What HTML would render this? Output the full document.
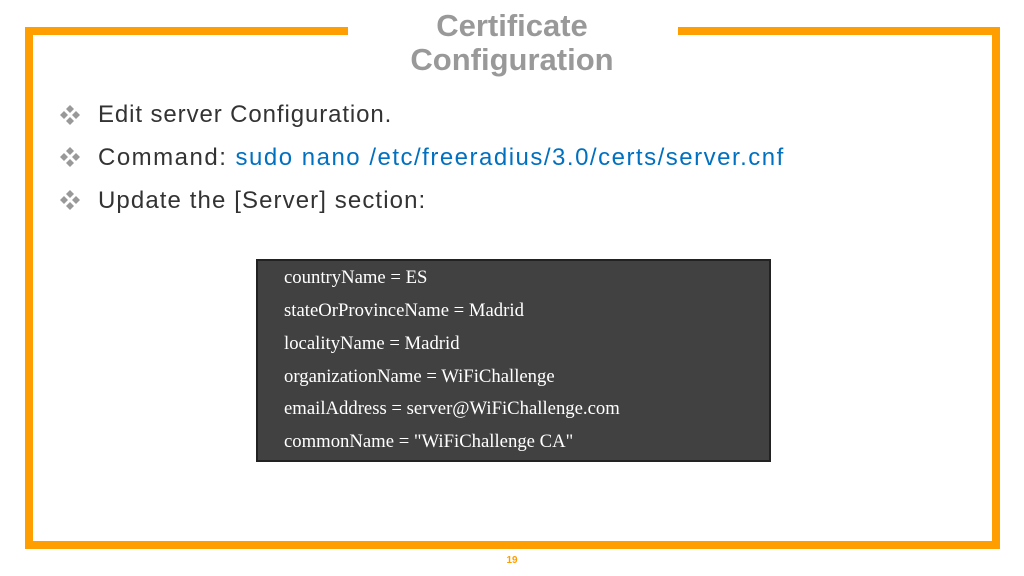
<!DOCTYPE html>
<html><head><style>
body{margin:0;width:1024px;height:576px;background:#fff;position:relative;overflow:hidden;font-family:"Liberation Sans",sans-serif}
.o{position:absolute;background:#ff9e00}
.t{position:absolute;left:340px;width:344px;text-align:center;color:#999;font-weight:bold;font-size:31px;line-height:34px;top:9px}
.b{position:absolute;left:98px;font-size:24px;color:#333;white-space:nowrap}
.d{position:absolute;left:58px;width:24px;height:24px}
.box{position:absolute;left:256px;top:259px;width:511px;height:199px;background:#414141;border:2px solid #222}
.box div{position:absolute;left:26px;color:#fff;font-family:"Liberation Serif",serif;font-size:18.7px;white-space:nowrap}
</style></head><body>
<div class="o" style="left:25px;top:27px;width:323px;height:8px"></div>
<div class="o" style="left:678px;top:27px;width:322px;height:8px"></div>
<div class="o" style="left:25px;top:27px;width:8px;height:522px"></div>
<div class="o" style="left:992px;top:27px;width:8px;height:522px"></div>
<div class="o" style="left:25px;top:541px;width:975px;height:8px"></div>
<div class="t">Certificate<br>Configuration</div>
<svg class="d" style="top:103px" viewBox="0 0 24 24"><g fill="#999"><path d="M12 2l4 4-4 4-4-4z"/><path d="M6 8l4 4-4 4-4-4z"/><path d="M18 8l4 4-4 4-4-4z"/><path d="M12 14l4 4-4 4-4-4z"/></g></svg>
<svg class="d" style="top:145px" viewBox="0 0 24 24"><g fill="#999"><path d="M12 2l4 4-4 4-4-4z"/><path d="M6 8l4 4-4 4-4-4z"/><path d="M18 8l4 4-4 4-4-4z"/><path d="M12 14l4 4-4 4-4-4z"/></g></svg>
<svg class="d" style="top:188px" viewBox="0 0 24 24"><g fill="#999"><path d="M12 2l4 4-4 4-4-4z"/><path d="M6 8l4 4-4 4-4-4z"/><path d="M18 8l4 4-4 4-4-4z"/><path d="M12 14l4 4-4 4-4-4z"/></g></svg>
<div class="b" style="top:101px;letter-spacing:0.9px">Edit server Configuration.</div>
<div class="b" style="top:144px;letter-spacing:1.5px">Command: <span style="color:#0070c0">sudo nano /etc/freeradius/3.0/certs/server.cnf</span></div>
<div class="b" style="top:187px;letter-spacing:1.1px">Update the [Server] section:</div>
<div class="box">
<div style="top:6px">countryName = ES</div>
<div style="top:39px">stateOrProvinceName = Madrid</div>
<div style="top:72px">localityName = Madrid</div>
<div style="top:105px">organizationName = WiFiChallenge</div>
<div style="top:137px">emailAddress = server@WiFiChallenge.com</div>
<div style="top:170px">commonName = "WiFiChallenge CA"</div>
</div>
<div style="position:absolute;left:500px;top:555px;width:24px;text-align:center;color:#ff9e00;font-size:10px;font-weight:bold">19</div>
</body></html>
